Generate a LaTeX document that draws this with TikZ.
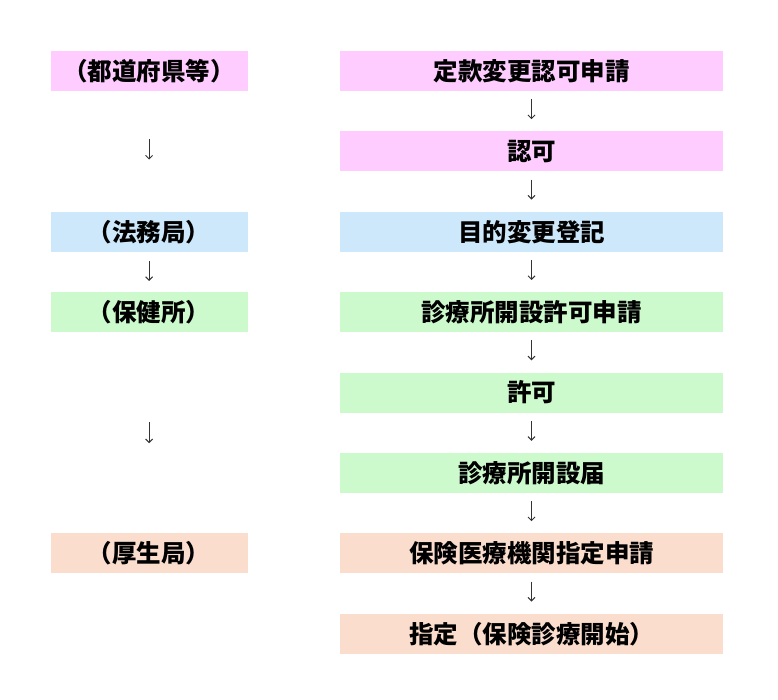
\documentclass[tikz,border=0pt]{standalone}
\usepackage{fontspec}
\setmainfont{Noto Sans CJK JP}
\usetikzlibrary{arrows.meta,positioning}
\definecolor{pinkbox}{HTML}{FFCCFF}
\definecolor{bluebox}{HTML}{CCE8FA}
\definecolor{greenbox}{HTML}{CCFACC}
\definecolor{peachbox}{HTML}{FADDCC}
\tikzset{
  box/.style   ={rectangle, draw=none, inner sep=0pt, minimum height=40pt,
                 font=\fontsize{24.5}{28}\selectfont\bfseries},
  boxL/.style  ={box, minimum width=197pt},   % Behoerde
  boxR/.style  ={box, minimum width=383pt},   % Verfahren
  flow/.style  ={-{Straight Barb[length=3.5pt,width=7pt]}, line width=1pt,
                 draw=black!80},
}

\begin{document}
\begin{tikzpicture}[x=1pt,y=-1pt,node distance=40pt]
  \useasboundingbox (0,0) rectangle (778,700);
  \node[boxR, fill=pinkbox]                (req)    at (531.5,71) {定款変更認可申請};
  \node[boxR, fill=pinkbox,  below=of req]   (appr)   {認可};
  \node[boxR, fill=bluebox,  below=of appr]  (reg)    {目的変更登記};
  \node[boxR, fill=greenbox, below=of reg]   (apply)  {診療所開設許可申請};
  \node[boxR, fill=greenbox, below=of apply] (perm)   {許可};
  \node[boxR, fill=greenbox, below=of perm]  (notice) {診療所開設届};
  \node[boxR, fill=peachbox, below=of notice](insreq) {保険医療機関指定申請};
  \node[boxR, fill=peachbox, below=of insreq](desig)  {指定（保険診療開始）};
  \node[boxL, fill=pinkbox,  left=92pt of req]    (pref) {（都道府県等）};
  \node[boxL, fill=bluebox,  left=92pt of reg]    (moj)  {（法務局）};
  \node[boxL, fill=greenbox, left=92pt of apply]  (hc)   {（保健所）};
  \node[boxL, fill=peachbox, left=92pt of insreq] (kb)   {（厚生局）};
  \draw[flow, shorten <=8pt, shorten >=12pt] (req) -- (appr);
  \draw[flow, shorten <=8pt, shorten >=12pt] (appr) -- (reg);
  \draw[flow, shorten <=8pt, shorten >=12pt] (reg) -- (apply);
  \draw[flow, shorten <=8pt, shorten >=12pt] (apply) -- (perm);
  \draw[flow, shorten <=8pt, shorten >=12pt] (perm) -- (notice);
  \draw[flow, shorten <=8pt, shorten >=12pt] (notice) -- (insreq);
  \draw[flow, shorten <=8pt, shorten >=12pt] (insreq) -- (desig);
  \draw[flow, shorten <=48pt, shorten >=52pt] (pref) -- (moj);
  \draw[flow, shorten <=9pt, shorten >=11pt] (moj) -- (hc);
  \draw[flow, shorten <=90pt, shorten >=90pt] (hc) -- (kb);
\end{tikzpicture}
\end{document}
